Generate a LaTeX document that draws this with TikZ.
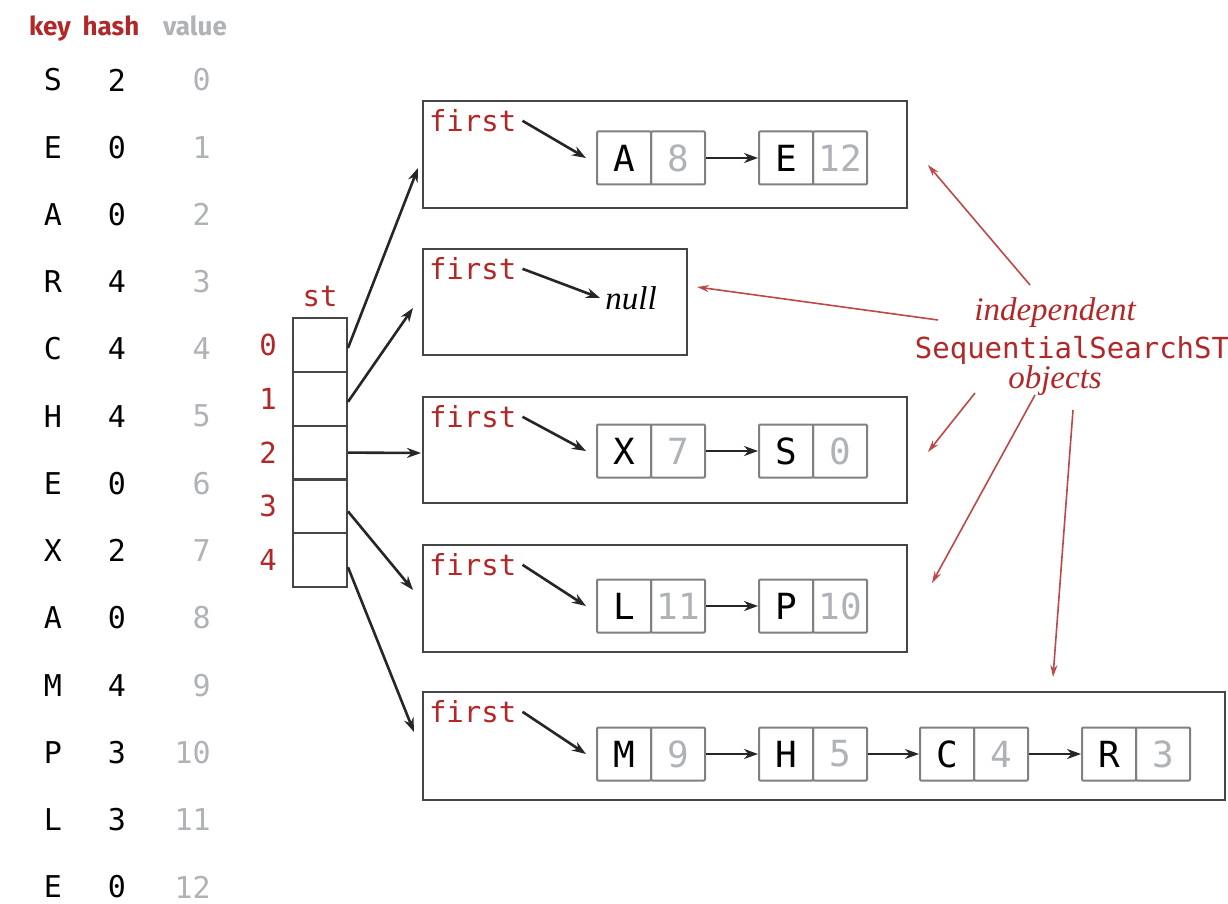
\documentclass[tikz,border=0pt]{standalone}
\usepackage{fontspec}
\setmainfont{Latin Modern Roman}
\newfontfamily\monof{DejaVu Sans Mono}
\newfontfamily\headf{Fira Sans}
\newfontfamily\italf{Liberation Serif}
\usetikzlibrary{arrows.meta,positioning}
\definecolor{bookred}{RGB}{178,40,40}
\definecolor{valgray}{RGB}{175,178,182}
\definecolor{boxgray}{RGB}{70,70,70}
\tikzset{
  tblkey/.style={font=\monof\fontsize{30}{30}\selectfont, text=black, inner sep=0pt},
  tblval/.style={font=\monof\fontsize{30}{30}\selectfont, text=valgray, inner sep=0pt, anchor=east},
  redmono/.style={font=\monof\fontsize{29}{29}\selectfont, text=bookred, inner sep=1pt},
  redital/.style={font=\italf\itshape\fontsize{33}{33}\selectfont, text=bookred, inner sep=0pt},
  headtxt/.style={font=\headf\bfseries\fontsize{26}{26}\selectfont, inner sep=0pt, anchor=base},
  objbox/.style={draw=boxgray, line width=2.4pt, rectangle, inner sep=0pt},
  keycell/.style={draw=gray, line width=2pt, minimum width=54pt, minimum height=53pt, inner sep=0pt, font=\monof\fontsize{36}{36}\selectfont, rounded corners=1pt},
  valcell/.style={keycell, text=valgray},
  stcell/.style={draw=boxgray, line width=2pt, minimum width=54pt, minimum height=54pt, inner sep=0pt},
  link/.style={line width=2.6pt, -{Stealth[length=14pt,width=10pt]}, black!85},
  redlink/.style={line width=1.6pt, -{Stealth[length=12pt,width=7pt]}, bookred!85},
}
\begin{document}
\begin{tikzpicture}[x=1pt,y=-1pt]
\useasboundingbox (0,0) rectangle (1228,904);
\fill[white] (0,0) rectangle (1228,904);
% header
\node[headtxt, text=bookred] (hkey) at (50,36) {key};
\node[headtxt, text=bookred] (hhash) at (111,36) {hash};
\node[headtxt, text=valgray] (hval) at (195,36) {value};
% table
\foreach \k/\h/\v [count=\i from 0] in {S/2/0,E/0/1,A/0/2,R/4/3,C/4/4,H/4/5,E/0/6,X/2/7,A/0/8,M/4/9,P/3/10,L/3/11,E/0/12}{
  \pgfmathsetmacro{\yy}{80+67.25*\i}
  \node[tblkey] (k\i) at (53,\yy) {\k};
  \node[tblkey] (h\i) at (117,\yy) {\h};
  \node[tblval] (v\i) at (211,\yy) {\v};
}
% st array
\node[redmono] (stlab) at (320,297) {st};
\foreach \i in {0,...,4}{
  \pgfmathsetmacro{\yy}{345+53.8*\i}
  \node[stcell] (s\i) at (320,\yy) {};
  \node[redmono] (ix\i) at (268,\yy) {\i};
}
% object boxes
\node[objbox, minimum width=484pt, minimum height=107pt] (b1) at (665,154.5) {};
\node[objbox, minimum width=264pt, minimum height=106pt] (b2) at (555,302) {};
\node[objbox, minimum width=484pt, minimum height=106pt] (b3) at (665,450) {};
\node[objbox, minimum width=484pt, minimum height=107pt] (b4) at (665,598.5) {};
\node[objbox, minimum width=802pt, minimum height=108pt] (b5) at (824,746) {};
% first labels
\foreach \b in {1,...,5}{
  \node[redmono, anchor=west] (f\b) at ([xshift=6pt,yshift=-21pt]b\b.north west) {first};
}
% nodes
\node[keycell] (n1a) at (624,158) {A}; \node[valcell] (n1av) at (678,158) {8};
\node[keycell] (n1b) at (786,158) {E}; \node[valcell] (n1bv) at (840,158) {12};
\node[font=\italf\itshape\fontsize{33}{33}\selectfont, inner sep=1pt] (nul) at (631,298) {null};
\node[keycell] (n3a) at (624,451) {X}; \node[valcell] (n3av) at (678,451) {7};
\node[keycell] (n3b) at (786,451) {S}; \node[valcell] (n3bv) at (840,451) {0};
\node[keycell] (n4a) at (624,606) {L}; \node[valcell] (n4av) at (678,606) {11};
\node[keycell] (n4b) at (786,606) {P}; \node[valcell] (n4bv) at (840,606) {10};
\node[keycell] (n5a) at (624,754) {M}; \node[valcell] (n5av) at (678,754) {9};
\node[keycell] (n5b) at (786,754) {H}; \node[valcell] (n5bv) at (840,754) {5};
\node[keycell] (n5c) at (947,754) {C}; \node[valcell] (n5cv) at (1001,754) {4};
\node[keycell] (n5d) at (1109,754) {R}; \node[valcell] (n5dv) at (1163,754) {3};
% first arrows
\draw[link] ([xshift=5pt]f1.east) -- ([xshift=-10pt]n1a.west);
\draw[link] ([xshift=5pt]f2.east) -- ([xshift=-4pt]nul.west);
\draw[link] ([xshift=5pt]f3.east) -- ([xshift=-10pt]n3a.west);
\draw[link] ([xshift=5pt]f4.east) -- ([xshift=-10pt]n4a.west);
\draw[link] ([xshift=5pt]f5.east) -- ([xshift=-10pt]n5a.west);
% next arrows
\draw[link] (n1av.east) -- (n1b.west);
\draw[link] (n3av.east) -- (n3b.west);
\draw[link] (n4av.east) -- (n4b.west);
\draw[link] (n5av.east) -- (n5b.west);
\draw[link] (n5bv.east) -- (n5c.west);
\draw[link] (n5cv.east) -- (n5d.west);
% st arrows
\coordinate (e0) at (418,168);
\coordinate (e1) at (413,308);
\coordinate (e2) at (421,453);
\coordinate (e3) at (413,590);
\coordinate (e4) at (414,732);
\draw[link] ([yshift=-3pt]s0.east) -- (e0);
\draw[link] ([yshift=-3pt]s1.east) -- (e1);
\draw[link] (s2.east) -- (e2);
\draw[link] ([yshift=-5pt]s3.east) -- (e3);
\draw[link] ([yshift=-7pt]s4.east) -- (e4);
% annotation
\node[redital] (ind) at (1055,313) {independent};
\node[redmono] (sss) at (1072,350) {SequentialSearchST};
\node[redital] (objs) at (1055,381) {objects};
\coordinate (a1s) at (1030,285); \coordinate (a1e) at (928,165);
\coordinate (a2s) at (938,320); \coordinate (a2e) at (697,287);
\coordinate (a3s) at (975,393); \coordinate (a3e) at (928,452);
\coordinate (a4s) at (1035,395); \coordinate (a4e) at (932,583);
\coordinate (a5s) at (1073,410); \coordinate (a5e) at (1053,677);
\draw[redlink] (a1s) -- (a1e);
\draw[redlink] (a2s) -- (a2e);
\draw[redlink] (a3s) -- (a3e);
\draw[redlink] (a4s) -- (a4e);
\draw[redlink] (a5s) -- (a5e);
\end{tikzpicture}
\end{document}
